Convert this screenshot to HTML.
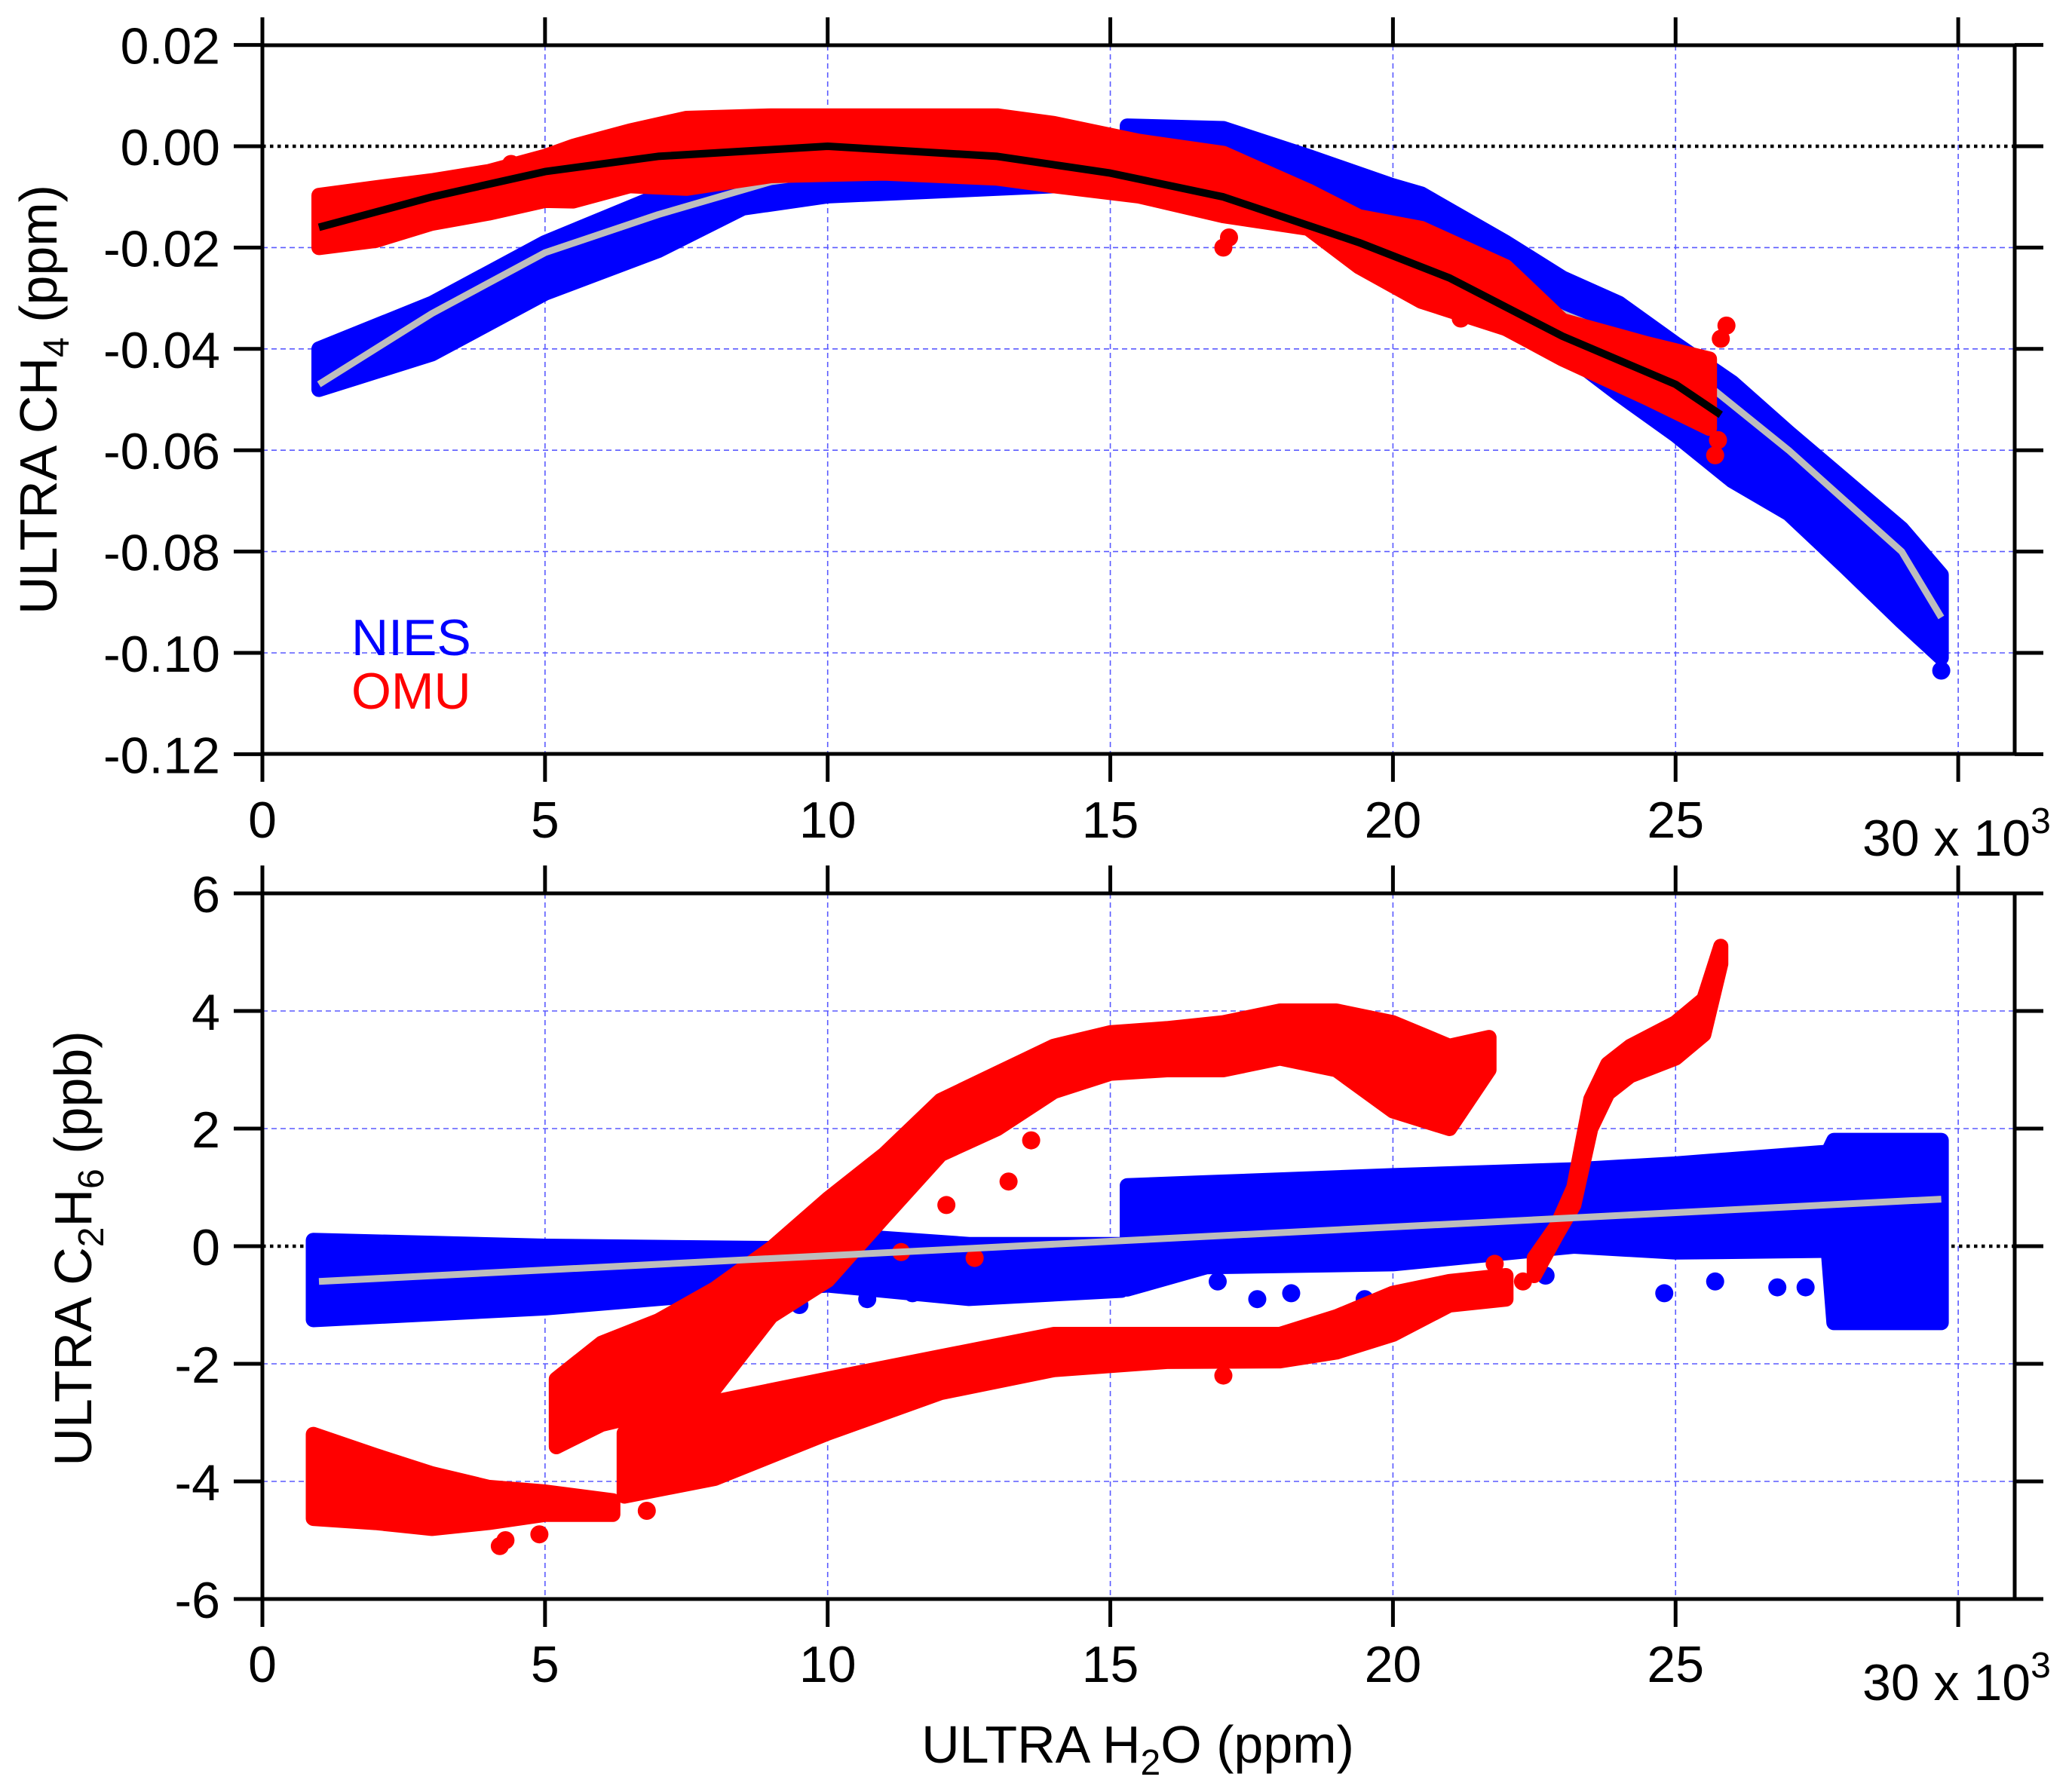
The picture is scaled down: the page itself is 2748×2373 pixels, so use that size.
<!DOCTYPE html>
<html><head><meta charset="utf-8"><style>
html,body{margin:0;padding:0;background:#fff;}
svg{display:block;font-family:"Liberation Sans",Arial,sans-serif;}
</style></head><body>
<svg id="chart" width="2748" height="2373" viewBox="0 0 2748 2373" xmlns="http://www.w3.org/2000/svg">
<g id="grid"></g>
<g id="marks"></g>
<g id="axes"></g>
<text transform="translate(75,530) rotate(-90)" text-anchor="middle" font-size="70">ULTRA CH<tspan font-size="48" dy="16">4</tspan><tspan dy="-16"> (ppm)</tspan></text>
<text transform="translate(97,1656) rotate(-90)" text-anchor="middle" dy="24" font-size="70">ULTRA C<tspan font-size="48" dy="16">2</tspan><tspan dy="-16">H</tspan><tspan font-size="48" dy="16">6</tspan><tspan dy="-16"> (ppb)</tspan></text>
<text x="1509" y="2338" text-anchor="middle" font-size="70">ULTRA H<tspan font-size="48" dy="16">2</tspan><tspan dy="-16">O (ppm)</tspan></text>
<text x="466" y="869" font-size="68" fill="#0000ff">NIES</text>
<text x="466" y="940" font-size="68" fill="#ff0000">OMU</text>
</svg>
<script>
// ---- data (x in thousands of ppm H2O) ----
const xTicks = [0,5,10,15,20,25,30];
const xTickLabels = ["0","5","10","15","20","25",""];
const topYTicks = [0.02,0.00,-0.02,-0.04,-0.06,-0.08,-0.10,-0.12];
const topYTickLabels = ["0.02","0.00","-0.02","-0.04","-0.06","-0.08","-0.10","-0.12"];
const botYTicks = [6,4,2,0,-2,-4,-6];
const botYTickLabels = ["6","4","2","0","-2","-4","-6"];

// Top panel: NIES (blue) band envelopes
const niesTopX1 = [1,3,5,7,8.5,10,12,14,15.2];
const niesTopHi1 = [-0.040,-0.031,-0.019,-0.0098,-0.0053,-0.0033,-0.0038,-0.0019,-0.0019];
const niesTopLo1 = [-0.048,-0.041,-0.029,-0.0206,-0.0122,-0.0098,-0.0088,-0.0078,-0.0078];
const niesTopX2 = [15.3,17,18.5,20,20.5,22,23,24,25,26,27,28,29,29.7];
const niesTopHi2 = [0.004,0.0035,-0.002,-0.0078,-0.0094,-0.019,-0.026,-0.031,-0.039,-0.0466,-0.0565,-0.066,-0.0755,-0.0846];
const niesTopLo2 = [-0.0088,-0.008,-0.0137,-0.020,-0.025,-0.036,-0.0405,-0.049,-0.057,-0.066,-0.0725,-0.083,-0.0938,-0.101];
const niesTopOutX = [29.7,16.2];
const niesTopOutY = [-0.1035,-0.0105];
// Top panel: OMU (red) band
const omuTopX = [1,2,3,4,5,5.5,6.5,7.5,9,11,13,14,15.5,17,18.5,19.4,20.5,22,23,24.5,25.6];
const omuTopHi = [-0.0097,-0.0082,-0.0068,-0.005,-0.002,0.000,0.003,0.0055,0.006,0.006,0.006,0.0045,0.001,-0.0014,-0.0088,-0.0139,-0.0162,-0.0238,-0.0344,-0.039,-0.042];
const omuTopLo = [-0.020,-0.0186,-0.0152,-0.0132,-0.0107,-0.0108,-0.0078,-0.0083,-0.0058,-0.0053,-0.0063,-0.0078,-0.0098,-0.0137,-0.0162,-0.0238,-0.0306,-0.036,-0.042,-0.0497,-0.0557];
const omuTopOutX = [17,17.1,21.2,24,25.7,25.8,25.9,25.75,4.4];
const omuTopOutY = [-0.020,-0.018,-0.034,-0.0455,-0.061,-0.038,-0.0354,-0.058,-0.0035];
// fits
const niesFitX = [1,3,5,7,9,11,13,15,16.5,18,19.4,21,23,25,27,29,29.7];
const niesFitY = [-0.047,-0.033,-0.021,-0.0135,-0.007,-0.004,-0.003,-0.003,-0.0055,-0.0105,-0.0133,-0.021,-0.033,-0.042,-0.060,-0.080,-0.093];
const omuFitX = [1,3,5,7,10,13,15,17,19.4,21,23,25,25.8];
const omuFitY = [-0.016,-0.010,-0.005,-0.002,0.000,-0.002,-0.0053,-0.010,-0.019,-0.026,-0.0375,-0.047,-0.053];

// Bottom panel: NIES band
const niesBotX1 = [0.9,5,9,10,12.5,15.2];
const niesBotHi1 = [0.1,0.0,-0.04,0.2,0.03,0.03];
const niesBotLo1 = [-1.25,-1.05,-0.73,-0.66,-0.89,-0.75];
const niesBotX2 = [15.3,16.7,20,23.2,25,27.7,27.8,29.7];
const niesBotHi2 = [1.03,1.08,1.2,1.3,1.4,1.6,1.8,1.8];
const niesBotLo2 = [-0.73,-0.35,-0.3,0.0,-0.1,-0.07,-1.3,-1.3];
const niesBotOutX = [9.5,10.7,11.5,19.5,20.2,21,22.7,24.8,25.7,26.8,27.3,28.1,18.2,17.6,16.9];
const niesBotOutY = [-1.0,-0.9,-0.8,-0.9,-0.9,-0.7,-0.5,-0.8,-0.6,-0.7,-0.7,-1.0,-0.8,-0.9,-0.6];
const niesBotFitX = [1,29.7];
const niesBotFitY = [-0.6,0.8];
// Bottom panel: OMU branches
const omuAX = [0.9,2,3,4,5,6.2];
const omuAHi = [-3.2,-3.56,-3.87,-4.1,-4.18,-4.33];
const omuALo = [-4.63,-4.7,-4.8,-4.7,-4.56,-4.56];
const omuBX = [5.2,6,7,8,9,10,11,12,13,14,15,16,17,18,19,20,21,21.7];
const omuBHi = [-2.26,-1.65,-1.27,-0.73,-0.04,0.8,1.56,2.48,2.94,3.4,3.63,3.7,3.8,4.0,4.0,3.8,3.4,3.55];
const omuBLo = [-3.41,-3.03,-2.8,-2.42,-1.19,-0.58,0.5,1.56,2.0,2.63,2.94,3.0,3.0,3.2,3.0,2.3,2.0,3.0];
const omuDX = [6.4,8,10,12,14,16,18,19,20,21,22];
const omuDHi = [-3.18,-2.65,-2.26,-1.88,-1.5,-1.5,-1.5,-1.2,-0.8,-0.6,-0.5];
const omuDLo = [-4.25,-3.95,-3.18,-2.49,-2.1,-1.96,-1.95,-1.8,-1.5,-1.0,-0.9];
const omuEX = [22.5,22.9,23.2,23.5,23.8,24.2,25,25.5,25.8];
const omuEHi = [-0.2,0.35,1.0,2.5,3.1,3.4,3.8,4.2,5.1];
const omuELo = [-0.5,0.2,0.7,2.0,2.6,2.9,3.2,3.6,4.8];
const omuOutX = [4.2,4.9,6.8,4.3,12.1,12.6,13.6,13.2,11.3,22.3,21.8,17.0];
const omuOutY = [-5.1,-4.9,-4.5,-5.0,0.7,-0.2,1.8,1.1,-0.1,-0.6,-0.3,-2.2];

// ---- scales ----
function X(k){return 348 + k*74.97;}
function YT(v){return 194 - v/0.02*134.4;}
function YB(v){return 1653 - v*78;}
const NS='http://www.w3.org/2000/svg';
function mk(parent,tag,attrs){const e=document.createElementNS(NS,tag);for(const k in attrs)e.setAttribute(k,attrs[k]);parent.appendChild(e);return e;}
const grid=document.getElementById('grid'), marks=document.getElementById('marks'), axes=document.getElementById('axes');
const BLUE='#0000ff', RED='#ff0000';

function band(xs,hi,lo,Y,color,name){
  let pts=[];
  for(let i=0;i<xs.length;i++)pts.push(X(xs[i]).toFixed(1)+','+Y(hi[i]).toFixed(1));
  for(let i=xs.length-1;i>=0;i--)pts.push(X(xs[i]).toFixed(1)+','+Y(lo[i]).toFixed(1));
  const p=mk(marks,'polygon',{points:pts.join(' '),fill:color,stroke:color,'stroke-width':20,'stroke-linejoin':'round'});
  
  
}
function dots(xs,ys,Y,color,name){
  for(let i=0;i<xs.length;i++){
    const c=mk(marks,'circle',{cx:X(xs[i]),cy:Y(ys[i]),r:12,fill:color});
    
    
  }
}
function line(xs,ys,Y,color,w,name){
  const d=xs.map((x,i)=>(i?'L':'M')+X(x).toFixed(1)+','+Y(ys[i]).toFixed(1)).join(' ');
  const p=mk(marks,'path',{d:d,fill:'none',stroke:color,'stroke-width':w,'stroke-linecap':'butt','stroke-linejoin':'round'});
  
  
}

// ---- panels: grid + axes ----
function panel(Y,yTicks,yLabels,top,bottom,xLabelY,tag){
  xTicks.forEach(k=>{ if(k>0){
    const g=mk(grid,'line',{x1:X(k),x2:X(k),y1:top,y2:bottom,stroke:'#5a5aff','stroke-width':1.6,'stroke-dasharray':'7 5'});
    
    
  }});
  yTicks.forEach(v=>{ const y=Y(v); if(y>top+2 && y<bottom-2){
    if(v===0){
      const z=mk(grid,'line',{x1:348,x2:2672,y1:y,y2:y,stroke:'#000','stroke-width':4.5,'stroke-dasharray':'4.5 5.5'});
      
      
    } else {
      const g=mk(grid,'line',{x1:348,x2:2672,y1:y,y2:y,stroke:'#5a5aff','stroke-width':1.6,'stroke-dasharray':'7 5'});
      
      
    }
  }});
  const fr=[[348,top,2672,top],[348,bottom,2672,bottom],[348,top,348,bottom],[2672,top,2672,bottom]];
  fr.forEach(f=>{
    const l=mk(axes,'line',{x1:f[0],y1:f[1],x2:f[2],y2:f[3],stroke:'#000','stroke-width':5,'stroke-linecap':'square'});
    
    
  });
  yTicks.forEach((v,i)=>{ const y=Y(v);
    const t1=mk(axes,'line',{x1:310,x2:348,y1:y,y2:y,stroke:'#000','stroke-width':5});
    
    
    const t2=mk(axes,'line',{x1:2672,x2:2710,y1:y,y2:y,stroke:'#000','stroke-width':5});
    
    
    const tx=mk(axes,'text',{x:292,y:y+25,'text-anchor':'end','font-size':68});
    tx.textContent=yLabels[i];
    
    
  });
  xTicks.forEach((k,i)=>{ const x=X(k);
    const t1=mk(axes,'line',{x1:x,x2:x,y1:top-37,y2:top,stroke:'#000','stroke-width':5});
    
    
    const t2=mk(axes,'line',{x1:x,x2:x,y1:bottom,y2:bottom+37,stroke:'#000','stroke-width':5});
    
    
    if(xTickLabels[i]){
      const tx=mk(axes,'text',{x:x,y:xLabelY,'text-anchor':'middle','font-size':68});
      tx.textContent=xTickLabels[i];
      
      
    }
  });
  const ex=mk(axes,'text',{x:2470,y:xLabelY+24,'font-size':68});
  ex.innerHTML='30 x 10<tspan font-size="48" dy="-30">3</tspan>';
  
  
}
panel(YT,topYTicks,topYTickLabels,60,1000,1111,'top');
panel(YB,botYTicks,botYTickLabels,1185,2121,2231,'bottom');

// ---- top panel marks ----
band(niesTopX1,niesTopHi1,niesTopLo1,YT,BLUE,'nies-ch4-points');
band(niesTopX2,niesTopHi2,niesTopLo2,YT,BLUE,'nies-ch4-points');
dots(niesTopOutX,niesTopOutY,YT,BLUE,'nies-ch4-outlier');
line(niesFitX,niesFitY,YT,'#bdbdbd',9,'nies-ch4-fit');
band(omuTopX,omuTopHi,omuTopLo,YT,RED,'omu-ch4-points');
dots(omuTopOutX,omuTopOutY,YT,RED,'omu-ch4-outlier');
line(omuFitX,omuFitY,YT,'#000',10,'omu-ch4-fit');

// ---- bottom panel marks ----
band(niesBotX1,niesBotHi1,niesBotLo1,YB,BLUE,'nies-c2h6-points');
band(niesBotX2,niesBotHi2,niesBotLo2,YB,BLUE,'nies-c2h6-points');
dots(niesBotOutX,niesBotOutY,YB,BLUE,'nies-c2h6-outlier');
band(omuAX,omuAHi,omuALo,YB,RED,'omu-c2h6-points');
band(omuBX,omuBHi,omuBLo,YB,RED,'omu-c2h6-points');
band(omuDX,omuDHi,omuDLo,YB,RED,'omu-c2h6-points');
band(omuEX,omuEHi,omuELo,YB,RED,'omu-c2h6-points');
dots(omuOutX,omuOutY,YB,RED,'omu-c2h6-outlier');
line(niesBotFitX,niesBotFitY,YB,'#bdbdbd',9,'nies-c2h6-fit');
</script>
</body></html>
